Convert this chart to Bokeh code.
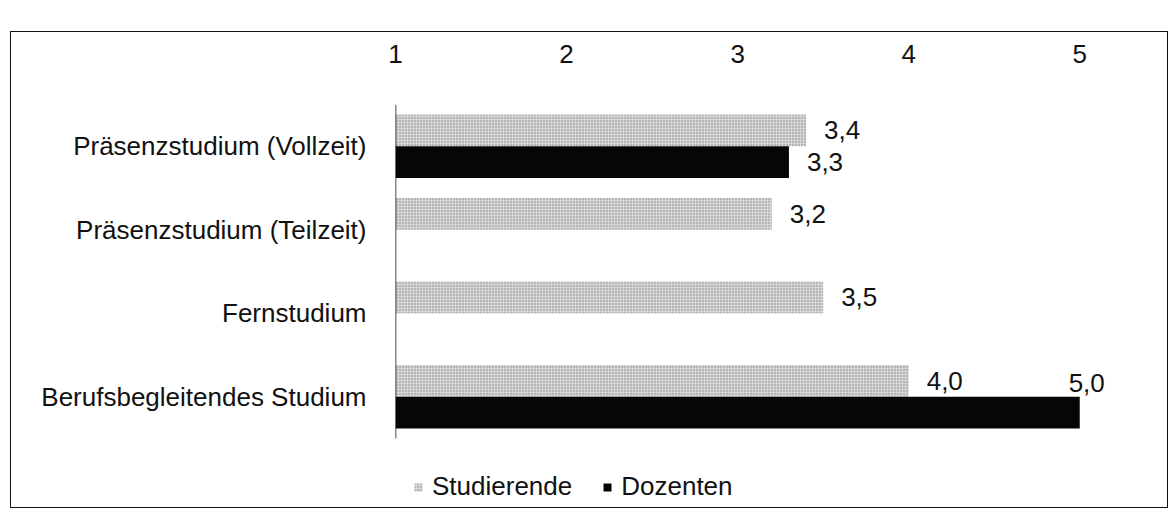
from bokeh.plotting import figure
from bokeh.models import (ColumnDataSource, Range1d, FixedTicker, Legend, LegendItem)
from bokeh.core.properties import value
from bokeh.embed import file_html
from bokeh.resources import INLINE

# ---- data ----
categories = ["Präsenzstudium (Vollzeit)", "Präsenzstudium (Teilzeit)",
              "Fernstudium", "Berufsbegleitendes Studium"]
studierende = [3.4, 3.2, 3.5, 4.0]
dozenten = [3.3, None, None, 5.0]
tick_values = [1, 2, 3, 4, 5]
series_names = ["Studierende", "Dozenten"]

FONT = "Liberation Sans"
FS = "26px"
SCALE_MIN, SCALE_MAX = 1, 5
N = len(categories)
BH = 0.38  # bar thickness in category units
centers = [N - 0.5 - i for i in range(N)]  # top-to-bottom order


def fmt(v):
    return f"{v:.1f}".replace(".", ",")


def build(vals, off):
    ys = [c + off for c, v in zip(centers, vals) if v is not None]
    vs = [v for v in vals if v is not None]
    over = [v >= SCALE_MAX for v in vs]
    return ColumnDataSource(dict(
        y=ys, v=vs, lbl=[fmt(v) for v in vs],
        xo=[7 if o else 18 for o in over],
        yo=[-30 if o else 0 for o in over],
        al=["center" if o else "left" for o in over],
    ))


src_s = build(studierende, BH / 2)
src_d = build(dozenten, -BH / 2)

# frame: 334px for the 4 categories, plus 66px below for the legend
legend_units = 66 / (334 / N)
p = figure(width=1158, height=477,
           y_range=Range1d(-legend_units, N),
           x_range=Range1d(SCALE_MIN, 5.25),
           x_axis_location="above",
           output_backend="svg", toolbar_location=None,
           min_border_left=384, min_border_right=47,
           min_border_top=72, min_border_bottom=5,
           margin=(31, 0, 0, 10),
           styles={"border": "1.5px solid #111"})
p.outline_line_color = None
p.xgrid.visible = False
p.ygrid.visible = False
p.background_fill_color = "white"

rs = p.hbar(y="y", left=SCALE_MIN, right="v", height=BH, source=src_s,
            fill_color="#d6d6d6", line_color=None,
            hatch_pattern="dot", hatch_color="#6a6a6a", hatch_scale=3,
            hatch_weight=1, hatch_alpha=0.75)
rd = p.hbar(y="y", left=SCALE_MIN, right="v", height=BH, source=src_d,
            fill_color="#060606", line_color=None)

for src in (src_s, src_d):
    p.text(x="v", y="y", text="lbl",
           x_offset="xo", y_offset="yo", text_align="al",
           text_baseline="middle", text_font=value(FONT),
           text_font_size=FS, text_color="#111", source=src)

# category axis line (only over the category band)
p.segment(x0=[SCALE_MIN], y0=[0], x1=[SCALE_MIN], y1=[N],
          line_color="#111", line_width=1.5)

# top axis
xa = p.xaxis[0]
xa.ticker = FixedTicker(ticks=tick_values)
xa.axis_line_color = None
xa.major_tick_line_color = None
xa.minor_tick_line_color = None
xa.major_label_standoff = 36
xa.major_label_text_font = FONT
xa.major_label_text_font_size = FS
xa.major_label_text_color = "#111"

# category axis labels
ya = p.yaxis[0]
ya.ticker = FixedTicker(ticks=centers)
ya.major_label_overrides = {c: name for c, name in zip(centers, categories)}
ya.axis_line_color = None
ya.major_tick_line_color = None
ya.minor_tick_line_color = None
ya.major_label_standoff = 23
ya.major_label_text_font = FONT
ya.major_label_text_font_size = FS
ya.major_label_text_color = "#111"

legend = Legend(items=[LegendItem(label=series_names[0], renderers=[rs]),
                       LegendItem(label=series_names[1], renderers=[rd])],
                orientation="horizontal", location=(18, 2),
                glyph_width=10, glyph_height=10, label_standoff=9,
                spacing=30, padding=0, margin=0,
                border_line_color=None, background_fill_alpha=0,
                label_text_font=FONT, label_text_font_size=FS,
                label_text_color="#111")
p.add_layout(legend, "center")

open("out.html", "w").write(file_html(p, INLINE))
